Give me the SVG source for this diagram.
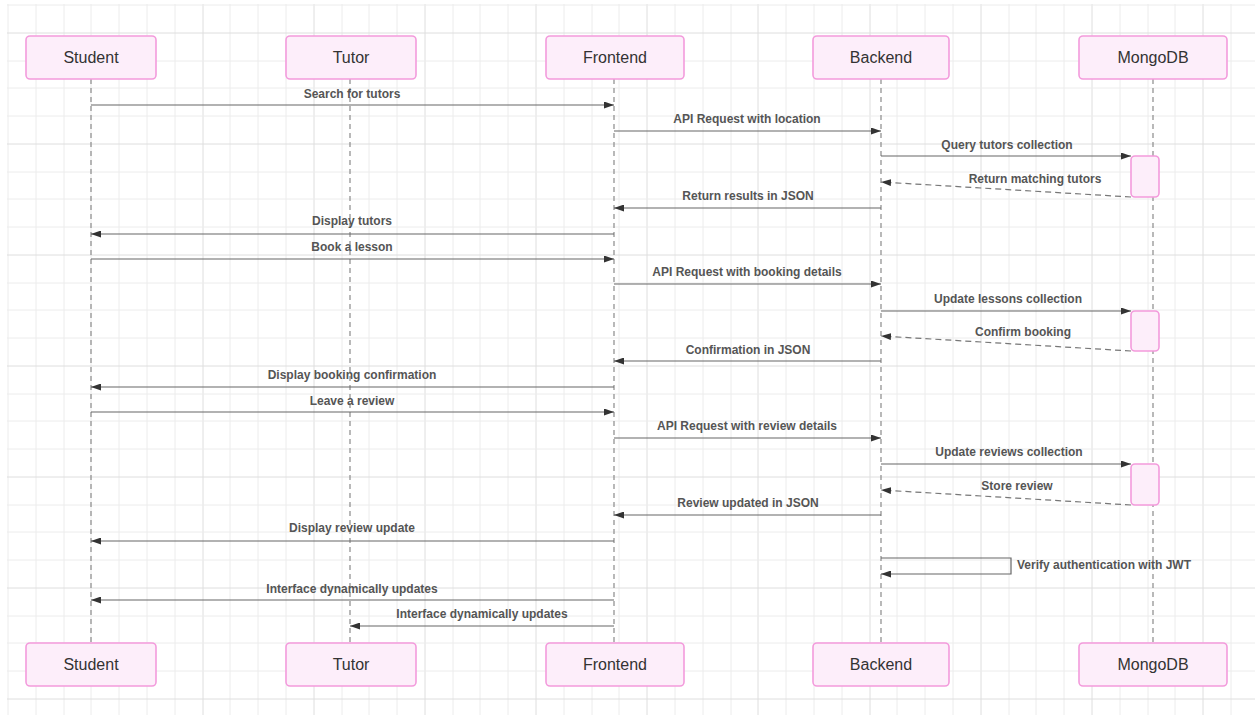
<svg xmlns="http://www.w3.org/2000/svg" width="1255" height="715" viewBox="0 0 1255 715">
<defs>
<marker id="ah" viewBox="0 0 10 7" refX="10" refY="3.5" markerWidth="10" markerHeight="7" markerUnits="userSpaceOnUse" orient="auto">
<path d="M0,0 L10,3.5 L0,7 z" fill="#333"/>
</marker>
<style>
.gmin{stroke:#ececec;stroke-width:1;fill:none}
.gmaj{stroke:#dedede;stroke-width:1;fill:none}
.box{fill:#fdeefa;stroke:#f39bdc;stroke-width:1.6}
.act{fill:#fdeefa;stroke:#f39bdc;stroke-width:1.6}
.nl{font-family:"Liberation Sans",Arial,sans-serif;font-size:16px;fill:#333;text-anchor:middle}
.life{stroke:#8a8a8a;stroke-width:1.2;stroke-dasharray:5 4;fill:none}
.msg{stroke:#666;stroke-width:1.2;fill:none;marker-end:url(#ah)}
.ret{stroke:#777;stroke-width:1.2;fill:none;stroke-dasharray:6 4;marker-end:url(#ah)}
.ml{font-family:"Liberation Sans",Arial,sans-serif;font-size:12px;font-weight:bold;fill:#555;text-anchor:middle}
</style>
</defs>
<rect width="1255" height="715" fill="#ffffff"/>
<g id="grid">
<path class="gmin" d="M8,4V715M36,4V715M64,4V715M91,4V715M119,4V715M147,4V715M175,4V715M230,4V715M258,4V715M286,4V715M342,4V715M369,4V715M397,4V715M453,4V715M480,4V715M508,4V715M564,4V715M592,4V715M619,4V715M675,4V715M703,4V715M731,4V715M786,4V715M814,4V715M842,4V715M897,4V715M925,4V715M953,4V715M1009,4V715M1036,4V715M1064,4V715M1120,4V715M1148,4V715M1175,4V715M1231,4V715"/>
<path class="gmaj" d="M203,4V715M314,4V715M425,4V715M536,4V715M647,4V715M758,4V715M870,4V715M981,4V715M1092,4V715M1203,4V715"/>
<path class="gmin" d="M7,5H1255M7,61H1255M7,88H1255M7,116H1255M7,172H1255M7,199H1255M7,227H1255M7,283H1255M7,310H1255M7,338H1255M7,394H1255M7,421H1255M7,449H1255M7,505H1255M7,532H1255M7,560H1255M7,616H1255M7,643H1255M7,671H1255"/>
<path class="gmaj" d="M7,33H1255M7,144H1255M7,255H1255M7,366H1255M7,477H1255M7,588H1255M7,699H1255"/>
</g>
<g id="lifelines">
<path class="life" d="M91,79V643M350,79V643M614,79V643M881,79V643M1153,79V643"/>
</g>
<g id="student-top"><rect class="box" x="26" y="36" width="130" height="43" rx="4"/><text class="nl" x="91" y="63">Student</text></g>
<g id="tutor-top"><rect class="box" x="286" y="36" width="130" height="43" rx="4"/><text class="nl" x="351" y="63">Tutor</text></g>
<g id="frontend-top"><rect class="box" x="546" y="36" width="138" height="43" rx="4"/><text class="nl" x="615" y="63">Frontend</text></g>
<g id="backend-top"><rect class="box" x="813" y="36" width="136" height="43" rx="4"/><text class="nl" x="881" y="63">Backend</text></g>
<g id="mongodb-top"><rect class="box" x="1079" y="36" width="148" height="43" rx="4"/><text class="nl" x="1153" y="63">MongoDB</text></g>
<g id="student-bottom"><rect class="box" x="26" y="643" width="130" height="43" rx="4"/><text class="nl" x="91" y="670">Student</text></g>
<g id="tutor-bottom"><rect class="box" x="286" y="643" width="130" height="43" rx="4"/><text class="nl" x="351" y="670">Tutor</text></g>
<g id="frontend-bottom"><rect class="box" x="546" y="643" width="138" height="43" rx="4"/><text class="nl" x="615" y="670">Frontend</text></g>
<g id="backend-bottom"><rect class="box" x="813" y="643" width="136" height="43" rx="4"/><text class="nl" x="881" y="670">Backend</text></g>
<g id="mongodb-bottom"><rect class="box" x="1079" y="643" width="148" height="43" rx="4"/><text class="nl" x="1153" y="670">MongoDB</text></g>
<g id="activations">
<rect class="act" x="1131" y="156" width="28" height="41" rx="4"/>
<rect class="act" x="1131" y="311" width="28" height="40" rx="4"/>
<rect class="act" x="1131" y="464" width="28" height="41" rx="4"/>
</g>
<g id="connectors">
<path class="msg" d="M91,105H614"/>
<path class="msg" d="M614,131H881"/>
<path class="msg" d="M881,156H1131"/>
<path class="ret" d="M1131,197L881,182"/>
<path class="msg" d="M881,208H614"/>
<path class="msg" d="M614,234H91"/>
<path class="msg" d="M91,259H614"/>
<path class="msg" d="M614,284H881"/>
<path class="msg" d="M881,311H1131"/>
<path class="ret" d="M1131,351L881,336"/>
<path class="msg" d="M881,361H614"/>
<path class="msg" d="M614,387H91"/>
<path class="msg" d="M91,412H614"/>
<path class="msg" d="M614,438H881"/>
<path class="msg" d="M881,464H1131"/>
<path class="ret" d="M1131,505L881,490"/>
<path class="msg" d="M881,515H614"/>
<path class="msg" d="M614,541H91"/>
<path class="msg" d="M881,558H1011V574H881"/>
<path class="msg" d="M614,600H91"/>
<path class="msg" d="M614,626H350"/>
</g>
<g id="labels">
<text class="ml" x="352" y="98">Search for tutors</text>
<text class="ml" x="747" y="123">API Request with location</text>
<text class="ml" x="1007" y="149">Query tutors collection</text>
<text class="ml" x="1035" y="183">Return matching tutors</text>
<text class="ml" x="748" y="200">Return results in JSON</text>
<text class="ml" x="352" y="225">Display tutors</text>
<text class="ml" x="352" y="251">Book a lesson</text>
<text class="ml" x="747" y="276">API Request with booking details</text>
<text class="ml" x="1008" y="303">Update lessons collection</text>
<text class="ml" x="1023" y="336">Confirm booking</text>
<text class="ml" x="748" y="354">Confirmation in JSON</text>
<text class="ml" x="352" y="379">Display booking confirmation</text>
<text class="ml" x="352" y="405">Leave a review</text>
<text class="ml" x="747" y="430">API Request with review details</text>
<text class="ml" x="1009" y="456">Update reviews collection</text>
<text class="ml" x="1017" y="490">Store review</text>
<text class="ml" x="748" y="507">Review updated in JSON</text>
<text class="ml" x="352" y="532">Display review update</text>
<text class="ml" x="1017" y="569" style="text-anchor:start">Verify authentication with JWT</text>
<text class="ml" x="352" y="593">Interface dynamically updates</text>
<text class="ml" x="482" y="618">Interface dynamically updates</text>
</g>
</svg>
